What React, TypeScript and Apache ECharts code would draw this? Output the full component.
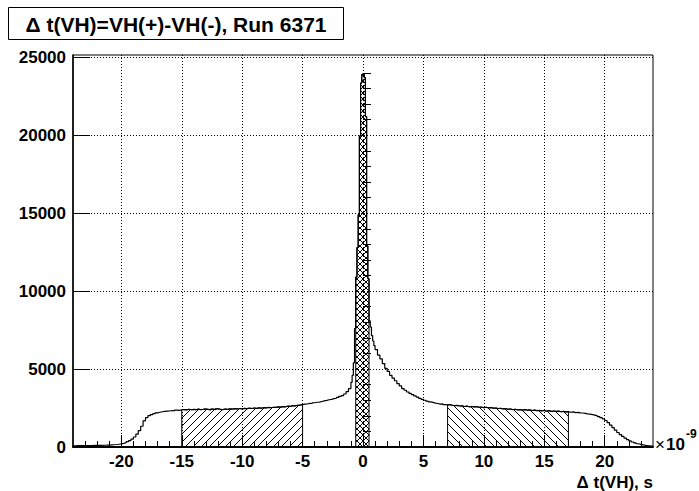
import React, { useEffect, useRef } from "react";
import * as echarts from "echarts";

// ---------- data ----------
const X_MIN = -24;
const X_MAX = 24;
const Y_MAX = 25150;
const SIDE_BIN_W = 0.2;
const CENTER_BIN_W = 0.1;
const CENTER_START = -1.0;
const RIGHT_START = 1.0;

// counts, bins of 0.2 (x1e-9 s) from -24 to -1
const leftCounts = [
  80, 85, 82, 88, 90, 86, 92, 95, 98, 100,
  104, 108, 112, 118, 125, 135, 145, 160, 178, 205,
  235, 280, 340, 410, 510, 640, 820, 1050, 1330, 1680,
  1880, 2010, 2080, 2140, 2190, 2230, 2260, 2280, 2300, 2310,
  2340, 2320, 2370, 2350, 2390, 2400, 2380, 2420, 2390, 2410,
  2400, 2430, 2390, 2420, 2440, 2410, 2380, 2430, 2400, 2450,
  2420, 2400, 2440, 2410, 2450, 2430, 2460, 2440, 2470, 2450,
  2480, 2460, 2490, 2470, 2500, 2480, 2510, 2490, 2520, 2510,
  2540, 2520, 2550, 2540, 2570, 2560, 2590, 2580, 2620, 2610,
  2650, 2640, 2680, 2690, 2720, 2750, 2760, 2800, 2790, 2840,
  2870, 2880, 2920, 2960, 2990, 3030, 3060, 3100, 3130, 3180,
  3250, 3300, 3400, 3550, 3750,
];

// counts, bins of 0.1 from -1 to 1
const centerCounts = [
  4150, 4600, 5400, 7600, 10900, 12800, 14900, 19950, 23350, 23900,
  23950, 23700, 21200, 12900, 10800, 8100, 7700, 7150, 6800, 6500,
];

// counts, bins of 0.2 from 1 to 24
const rightCounts = [
  6250, 5900, 5650, 5350, 5050, 4850, 4600, 4420, 4250, 4060,
  3920, 3750, 3640, 3530, 3440, 3360, 3280, 3200, 3120, 3060,
  3000, 2940, 2890, 2860, 2820, 2790, 2750, 2770, 2720, 2700,
  2720, 2680, 2650, 2670, 2630, 2640, 2600, 2620, 2580, 2600,
  2570, 2590, 2550, 2560, 2520, 2550, 2510, 2530, 2490, 2500,
  2470, 2480, 2440, 2460, 2420, 2440, 2400, 2420, 2380, 2400,
  2370, 2400, 2360, 2380, 2340, 2370, 2330, 2350, 2320, 2340,
  2300, 2330, 2290, 2310, 2280, 2300, 2260, 2290, 2250, 2270,
  2230, 2250, 2210, 2220, 2190, 2180, 2160, 2130, 2110, 2080,
  2040, 2000, 1950, 1880, 1800, 1700, 1560, 1400, 1240, 1080,
  930, 800, 680, 570, 470, 390, 320, 260, 210, 170,
  135, 110, 90, 72, 60,
];

const xMajorTicks = [-20, -15, -10, -5, 0, 5, 10, 15, 20];
const xMinorTicks = [
  -23, -22, -21, -19, -18, -17, -16, -14, -13, -12, -11, -9, -8, -7, -6, -4, -3, -2, -1,
  1, 2, 3, 4, 6, 7, 8, 9, 11, 12, 13, 14, 16, 17, 18, 19, 21, 22, 23,
];
const yMajorTicks = [0, 5000, 10000, 15000, 20000, 25000];
const yMinorTicks = [
  1000, 2000, 3000, 4000, 6000, 7000, 8000, 9000, 11000, 12000, 13000, 14000,
  16000, 17000, 18000, 19000, 21000, 22000, 23000, 24000,
];

const hatchLeftRange = [-15, -5];
const hatchRightRange = [7, 17];
const hatchCenterRange = [-0.6, 0.5];

const titleText = "\u0394 t(VH)=VH(+)-VH(-), Run 6371";
const xTitleText = "\u0394 t(VH), s";

// ---------- helpers ----------
type Bin = { lo: number; hi: number; c: number };
const r3 = (v: number) => Math.round(v * 1000) / 1000;
const bins: Bin[] = [];
leftCounts.forEach((c, i) =>
  bins.push({ lo: r3(X_MIN + i * SIDE_BIN_W), hi: r3(X_MIN + (i + 1) * SIDE_BIN_W), c })
);
centerCounts.forEach((c, i) =>
  bins.push({ lo: r3(CENTER_START + i * CENTER_BIN_W), hi: r3(CENTER_START + (i + 1) * CENTER_BIN_W), c })
);
rightCounts.forEach((c, i) =>
  bins.push({ lo: r3(RIGHT_START + i * SIDE_BIN_W), hi: r3(RIGHT_START + (i + 1) * SIDE_BIN_W), c })
);

function outline(lo: number, hi: number, closed: boolean): number[][] {
  const sel = bins.filter((b) => b.lo >= lo - 1e-6 && b.hi <= hi + 1e-6);
  const pts: number[][] = [];
  if (closed) pts.push([sel[0].lo, 0]);
  sel.forEach((b) => {
    pts.push([b.lo, b.c]);
    pts.push([b.hi, b.c]);
  });
  if (closed) pts.push([sel[sel.length - 1].hi, 0]);
  return pts;
}

function hatch(kind: "fwd" | "back" | "cross", size: number) {
  const cv = document.createElement("canvas");
  cv.width = size;
  cv.height = size;
  const ctx = cv.getContext("2d")!;
  ctx.strokeStyle = "#000";
  ctx.lineWidth = 1;
  const fwd = () => {
    ctx.beginPath();
    ctx.moveTo(-1, size + 1);
    ctx.lineTo(size + 1, -1);
    ctx.moveTo(-2, 2);
    ctx.lineTo(2, -2);
    ctx.moveTo(size - 2, size + 2);
    ctx.lineTo(size + 2, size - 2);
    ctx.stroke();
  };
  const back = () => {
    ctx.beginPath();
    ctx.moveTo(-1, -1);
    ctx.lineTo(size + 1, size + 1);
    ctx.moveTo(size - 2, -2);
    ctx.lineTo(size + 2, 2);
    ctx.moveTo(-2, size - 2);
    ctx.lineTo(2, size + 2);
    ctx.stroke();
  };
  if (kind === "fwd") fwd();
  else if (kind === "back") back();
  else {
    fwd();
    back();
  }
  return { image: cv.toDataURL(), repeat: "repeat", imageWidth: size, imageHeight: size };
}

const FONT = "Liberation Sans, Arial, Helvetica, sans-serif";

export default function App() {
  const ref = useRef<HTMLDivElement>(null);
  useEffect(() => {
    document.body.style.margin = "0";
    if (!ref.current) return;
    const chart = echarts.init(ref.current, undefined, { renderer: "svg" });

    const hatchSeries = (name: string, range: number[], pattern: any) => ({
      name,
      type: "line",
      data: outline(range[0], range[1], true),
      symbol: "none",
      lineStyle: { color: "#000", width: 1 },
      areaStyle: { color: pattern, opacity: 1 },
      z: 3,
    });

    const option: any = {
      animation: false,
      backgroundColor: "#fff",
      grid: {
        left: 73,
        right: 46,
        top: 55,
        bottom: 44,
        show: true,
        borderColor: "#000",
        borderWidth: 1,
        backgroundColor: "transparent",
      },
      xAxis: [
        {
          type: "value",
          position: "bottom",
          min: X_MIN,
          max: X_MAX,
          axisLine: { show: true, onZero: false, lineStyle: { color: "#000", width: 2 } },
          axisTick: {
            show: true,
            inside: true,
            length: 12,
            customValues: xMajorTicks,
            lineStyle: { color: "#000", width: 1 },
          },
          axisLabel: {
            show: true,
            customValues: xMajorTicks,
            color: "#000",
            fontFamily: FONT,
            fontWeight: "bold",
            fontSize: 17,
            margin: 6,
            formatter: (v: number) => String(v),
          },
          splitLine: { show: true, lineStyle: { color: "#000", type: [1, 2], width: 1 } },
        },
        {
          type: "value",
          position: "bottom",
          min: X_MIN,
          max: X_MAX,
          axisLine: { show: false },
          axisLabel: { show: false },
          splitLine: { show: false },
          axisTick: {
            show: true,
            inside: true,
            length: 6,
            customValues: xMinorTicks,
            lineStyle: { color: "#000", width: 1 },
          },
        },
      ],
      yAxis: [
        {
          type: "value",
          position: "left",
          min: 0,
          max: Y_MAX,
          axisLine: { show: true, onZero: false, lineStyle: { color: "#000", width: 1.5 } },
          axisTick: {
            show: true,
            inside: true,
            length: 17,
            customValues: yMajorTicks,
            lineStyle: { color: "#000", width: 1 },
          },
          axisLabel: {
            show: true,
            customValues: yMajorTicks,
            color: "#000",
            fontFamily: FONT,
            fontWeight: "bold",
            fontSize: 17,
            margin: 7,
            formatter: (v: number) => String(v),
          },
          splitLine: { show: true, lineStyle: { color: "#000", type: [1, 2], width: 1 } },
        },
        {
          type: "value",
          position: "left",
          min: 0,
          max: Y_MAX,
          axisLine: { show: false },
          axisLabel: { show: false },
          splitLine: { show: false },
          axisTick: {
            show: true,
            inside: true,
            length: 8,
            customValues: yMinorTicks,
            lineStyle: { color: "#000", width: 1 },
          },
        },
      ],
      series: [
        hatchSeries("left", hatchLeftRange, hatch("fwd", 8)),
        hatchSeries("right", hatchRightRange, hatch("back", 8)),
        hatchSeries("center", hatchCenterRange, hatch("cross", 6)),
        {
          name: "main",
          type: "line",
          data: outline(X_MIN, X_MAX, false),
          symbol: "none",
          lineStyle: { color: "#000", width: 1.2 },
          z: 4,
        },
      ],
      graphic: [
        {
          type: "rect",
          shape: { x: 8.5, y: 7.5, width: 335, height: 32 },
          style: { fill: "#fff", stroke: "#000", lineWidth: 1 },
          z: 10,
        },
        {
          type: "text",
          x: 176,
          y: 24,
          style: {
            text: titleText,
            fill: "#000",
            font: `bold 21px ${FONT}`,
            textAlign: "center",
            textVerticalAlign: "middle",
          },
          z: 11,
        },
        {
          type: "text",
          x: 653,
          y: 482,
          style: {
            text: xTitleText,
            fill: "#000",
            font: `bold 17px ${FONT}`,
            textAlign: "right",
            textVerticalAlign: "middle",
          },
        },
        {
          type: "text",
          x: 655,
          y: 444,
          style: {
            text: "\u00d7",
            fill: "#000",
            font: `17px ${FONT}`,
            textAlign: "left",
            textVerticalAlign: "middle",
          },
        },
        {
          type: "text",
          x: 666,
          y: 444,
          style: {
            text: "10",
            fill: "#000",
            font: `bold 17px ${FONT}`,
            textAlign: "left",
            textVerticalAlign: "middle",
          },
        },
        {
          type: "text",
          x: 686,
          y: 434,
          style: {
            text: "-9",
            fill: "#000",
            font: `bold 12px ${FONT}`,
            textAlign: "left",
            textVerticalAlign: "middle",
          },
        },
      ],
    };
    chart.setOption(option);
    return () => chart.dispose();
  }, []);
  return <div ref={ref} style={{ width: 699, height: 491 }} />;
}
